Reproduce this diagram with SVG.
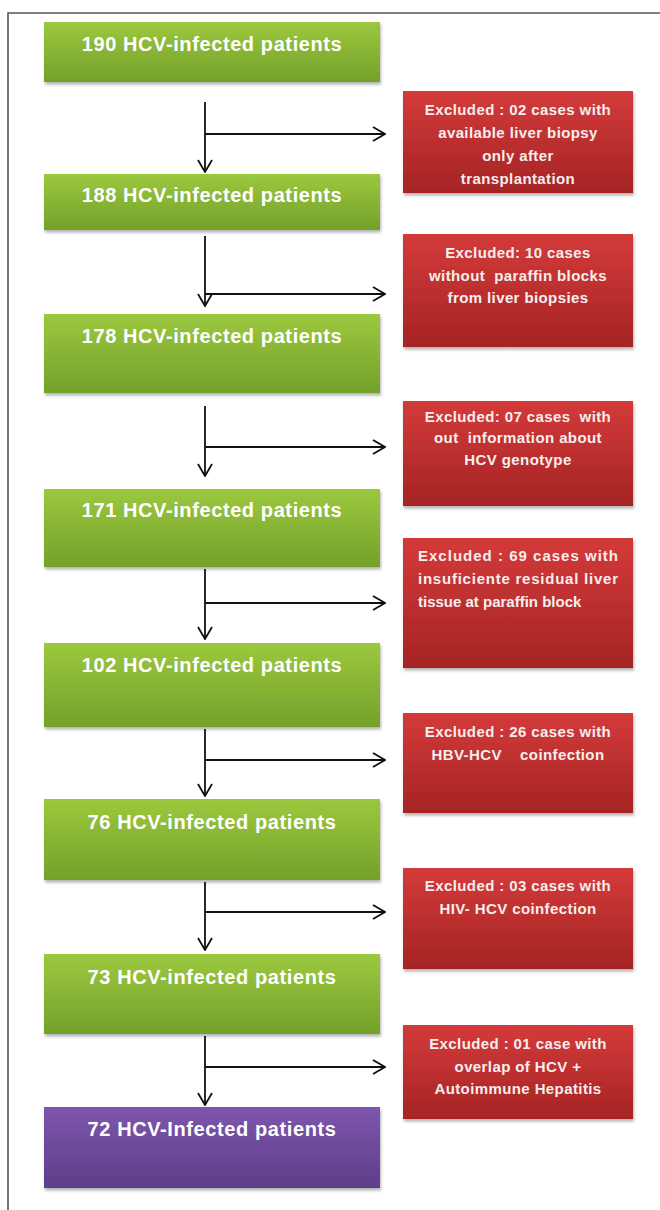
<svg xmlns="http://www.w3.org/2000/svg" width="660" height="1210" viewBox="0 0 660 1210">
<style>
.frame{fill:none;stroke:#555;stroke-width:1.6}
.g{fill:url(#gGreen);filter:url(#sh)}
.r{fill:url(#gRed);filter:url(#sh)}
.p{fill:url(#gPurple);filter:url(#sh)}
.gt{font-family:"Liberation Sans",Arial,sans-serif;font-weight:bold;font-size:20px;fill:#fff;text-anchor:middle;letter-spacing:0.6px}
.rt{font-family:"Liberation Sans",Arial,sans-serif;font-weight:bold;font-size:15px;fill:#f6eeee;text-anchor:middle;letter-spacing:0.4px}
.rl{font-family:"Liberation Sans",Arial,sans-serif;font-weight:bold;font-size:15px;fill:#f6eeee}
.c{fill:none;stroke:#111;stroke-width:1.8}
</style>
<defs>
<linearGradient id="gGreen" x1="0" y1="0" x2="0" y2="1">
<stop offset="0" stop-color="#9cc83e"/>
<stop offset="1" stop-color="#74a02b"/>
</linearGradient>
<linearGradient id="gRed" x1="0" y1="0" x2="0" y2="1">
<stop offset="0" stop-color="#d43a3a"/>
<stop offset="1" stop-color="#a52424"/>
</linearGradient>
<linearGradient id="gPurple" x1="0" y1="0" x2="0" y2="1">
<stop offset="0" stop-color="#7e56ad"/>
<stop offset="1" stop-color="#5d3e88"/>
</linearGradient>
<filter id="sh" x="-5%" y="-5%" width="112%" height="120%">
<feDropShadow dx="1" dy="2.5" stdDeviation="1.5" flood-color="#000" flood-opacity="0.3"/>
</filter>
<marker id="ah" viewBox="0 0 14 16" refX="13" refY="8" markerWidth="14" markerHeight="16" markerUnits="userSpaceOnUse" orient="auto">
<path d="M1,1 L13,8 L1,15" fill="none" stroke="#111" stroke-width="1.8"/>
</marker>
</defs>
<rect width="660" height="1210" fill="#fff"/>
<path class="frame" d="M8,1210 V13 H660"/>

<g id="connectors">
<path class="c" d="M205,102 V172" marker-end="url(#ah)"/>
<path class="c" d="M205,134 H385" marker-end="url(#ah)"/>
<path class="c" d="M205,236 V306" marker-end="url(#ah)"/>
<path class="c" d="M205,294 H385" marker-end="url(#ah)"/>
<path class="c" d="M205,406 V476" marker-end="url(#ah)"/>
<path class="c" d="M205,447 H385" marker-end="url(#ah)"/>
<path class="c" d="M205,569 V639" marker-end="url(#ah)"/>
<path class="c" d="M205,603 H385" marker-end="url(#ah)"/>
<path class="c" d="M205,729 V796" marker-end="url(#ah)"/>
<path class="c" d="M205,760 H385" marker-end="url(#ah)"/>
<path class="c" d="M205,882 V950" marker-end="url(#ah)"/>
<path class="c" d="M205,912 H385" marker-end="url(#ah)"/>
<path class="c" d="M205,1036 V1105" marker-end="url(#ah)"/>
<path class="c" d="M205,1067 H385" marker-end="url(#ah)"/>
</g>

<g id="n190"><rect class="g" x="44" y="22" width="336" height="60"/><text class="gt" x="212" y="51">190 HCV-infected patients</text></g>
<g id="n188"><rect class="g" x="44" y="174" width="336" height="56"/><text class="gt" x="212" y="202">188 HCV-infected patients</text></g>
<g id="n178"><rect class="g" x="44" y="314" width="336" height="79"/><text class="gt" x="212" y="343">178 HCV-infected patients</text></g>
<g id="n171"><rect class="g" x="44" y="489" width="336" height="78"/><text class="gt" x="212" y="517">171 HCV-infected patients</text></g>
<g id="n102"><rect class="g" x="44" y="643" width="336" height="84"/><text class="gt" x="212" y="672">102 HCV-infected patients</text></g>
<g id="n76"><rect class="g" x="44" y="799" width="336" height="81"/><text class="gt" x="212" y="829">76 HCV-infected patients</text></g>
<g id="n73"><rect class="g" x="44" y="954" width="336" height="80"/><text class="gt" x="212" y="984">73 HCV-infected patients</text></g>
<g id="n72"><rect class="p" x="44" y="1107" width="336" height="81"/><text class="gt" x="212" y="1136">72 HCV-Infected patients</text></g>

<g id="x1"><rect class="r" x="403" y="91" width="230" height="102"/>
<text class="rt" x="518" y="115">Excluded : 02 cases with</text>
<text class="rt" x="518" y="138">available liver biopsy</text>
<text class="rt" x="518" y="161">only after</text>
<text class="rt" x="518" y="184">transplantation</text></g>
<g id="x2"><rect class="r" x="403" y="234" width="230" height="113"/>
<text class="rt" x="518" y="258">Excluded: 10 cases</text>
<text class="rt" x="518" y="281" xml:space="preserve">without  paraffin blocks</text>
<text class="rt" x="518" y="303">from liver biopsies</text></g>
<g id="x3"><rect class="r" x="403" y="401" width="230" height="105"/>
<text class="rt" x="518" y="422" xml:space="preserve">Excluded: 07 cases  with</text>
<text class="rt" x="518" y="443" xml:space="preserve">out  information about</text>
<text class="rt" x="518" y="465">HCV genotype</text></g>
<g id="x4"><rect class="r" x="403" y="538" width="230" height="130"/>
<text class="rl" x="418" y="561" textLength="200" lengthAdjust="spacing">Excluded : 69 cases with</text>
<text class="rl" x="418" y="584" textLength="200" lengthAdjust="spacing">insuficiente residual liver</text>
<text class="rl" x="418" y="607">tissue at paraffin block</text></g>
<g id="x5"><rect class="r" x="403" y="713" width="230" height="100"/>
<text class="rt" x="518" y="737">Excluded : 26 cases with</text>
<text class="rt" x="518" y="760" xml:space="preserve">HBV-HCV    coinfection</text></g>
<g id="x6"><rect class="r" x="403" y="868" width="230" height="101"/>
<text class="rt" x="518" y="891">Excluded : 03 cases with</text>
<text class="rt" x="518" y="914">HIV- HCV coinfection</text></g>
<g id="x7"><rect class="r" x="403" y="1025" width="230" height="94"/>
<text class="rt" x="518" y="1049">Excluded : 01 case with</text>
<text class="rt" x="518" y="1072">overlap of HCV +</text>
<text class="rt" x="518" y="1094">Autoimmune Hepatitis</text></g>
</svg>
